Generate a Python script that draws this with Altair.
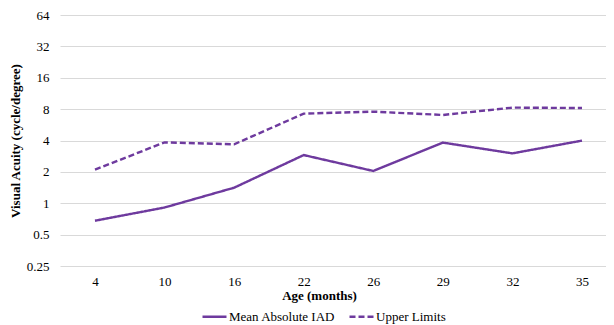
import altair as alt
import pandas as pd

ages = ["4", "10", "16", "22", "26", "29", "32", "35"]
mean_iad = [0.68, 0.91, 1.41, 2.90, 2.04, 3.82, 3.01, 3.99]
upper_limits = [2.10, 3.84, 3.68, 7.24, 7.57, 7.03, 8.27, 8.20]
series_names = ["Mean Absolute IAD", "Upper Limits"]
y_ticks = [0.25, 0.5, 1, 2, 4, 8, 16, 32, 64]

rows = []
for a, m, u in zip(ages, mean_iad, upper_limits):
    rows.append({"age": a, "series": series_names[0], "value": m})
    rows.append({"age": a, "series": series_names[1], "value": u})
df = pd.DataFrame(rows)

PURPLE = "#6E3A9E"
FONT = "Liberation Serif"

chart = (
    alt.Chart(df)
    .mark_line(strokeWidth=2.4)
    .encode(
        x=alt.X(
            "age:N",
            sort=ages,
            scale=alt.Scale(type="point", padding=0.424, align=0.593),
            axis=alt.Axis(
                title="Age (months)",
                labelAngle=0,
                domain=False,
                ticks=False,
                grid=False,
                labelPadding=9,
                labelFontSize=13,
                titleFontSize=13,
                titleFontWeight="bold",
                titleX=259,
                titleY=23,
            ),
        ),
        y=alt.Y(
            "value:Q",
            scale=alt.Scale(type="log", base=2, domain=[0.25, 64], nice=False),
            axis=alt.Axis(
                title="Visual Acuity (cycle/degree)",
                values=y_ticks,
                format="~g",
                domain=False,
                ticks=False,
                grid=True,
                gridColor="#d9d9d9",
                gridWidth=1,
                labelPadding=11,
                labelFontSize=13,
                titleFontSize=13,
                titleFontWeight="bold",
                titlePadding=4,
            ),
        ),
        color=alt.Color(
            "series:N",
            scale=alt.Scale(domain=series_names, range=[PURPLE, PURPLE]),
            legend=alt.Legend(
                title=None,
                orient="none",
                direction="horizontal",
                legendX=141,
                legendY=288,
                symbolType="stroke",
                symbolSize=576,
                symbolStrokeWidth=2.4,
                labelFontSize=13,
                labelOffset=1,
                columnPadding=8,
            ),
        ),
        strokeDash=alt.StrokeDash(
            "series:N",
            scale=alt.Scale(domain=series_names, range=[[1, 0], [6, 3]]),
            legend=None,
        ),
    )
    .properties(
        width=546,
        height=251,
        padding={"left": 52, "top": 7, "right": 0, "bottom": 60},
        autosize=alt.AutoSizeParams(type="none"),
    )
    .configure(font=FONT)
    .configure_axis(labelFont=FONT, titleFont=FONT, labelColor="#000000", titleColor="#000000")
    .configure_legend(labelFont=FONT, labelColor="#000000")
    .configure_view(stroke=None)
)

chart.save("out.html", embed_options={"renderer": "svg", "actions": False})
